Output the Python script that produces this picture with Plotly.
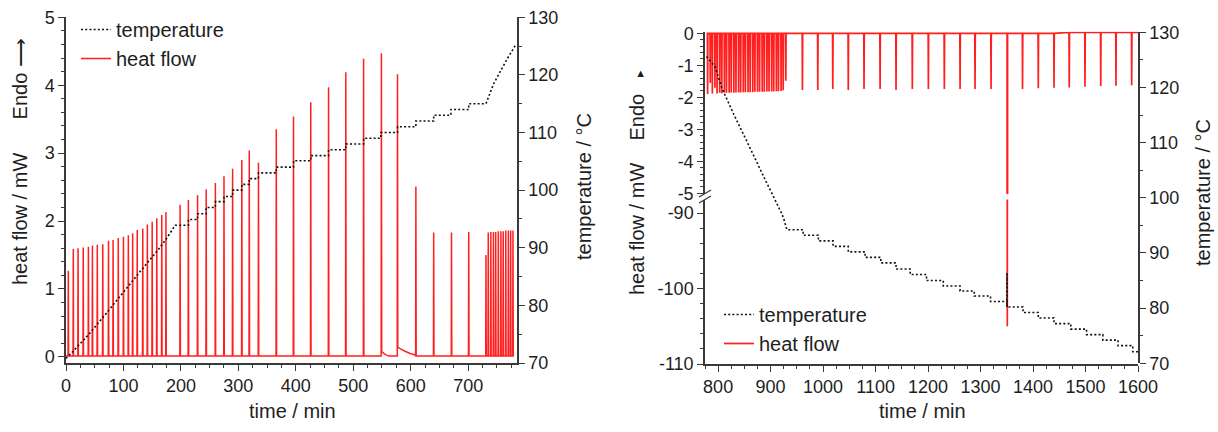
import plotly.graph_objects as go

W, H = 1218, 432

# ---------------- Left panel (heating) ----------------
left_spike_time = [4, 12.7, 21, 30, 39, 46, 54.5, 64, 74, 82, 91, 100, 108.5, 116, 124, 133.6, 141.6, 150, 158, 166.7, 174,
                   198.6, 213, 229, 244, 260, 275, 290, 306, 319, 335, 366, 396, 426, 457, 487, 518, 549, 577, 609, 640, 671, 701,
                   731, 735, 739.5, 744, 748, 752.5, 757, 761, 765.5, 770, 774, 778]
left_spike_height = [1.27, 1.59, 1.60, 1.61, 1.62, 1.64, 1.65, 1.66, 1.71, 1.72, 1.75, 1.77, 1.79, 1.82, 1.87, 1.89, 1.95, 1.99, 2.04, 2.09, 2.13,
                     2.24, 2.31, 2.38, 2.47, 2.56, 2.66, 2.77, 2.90, 3.04, 2.86, 3.35, 3.54, 3.75, 3.97, 4.19, 4.39, 4.47, 4.16, 2.51, 1.83, 1.83, 1.84,
                     1.50, 1.83, 1.84, 1.84, 1.84, 1.85, 1.85, 1.85, 1.86, 1.86, 1.86, 1.86]
left_base_time = [0, 779.5]
left_base_value = [0.012, 0.012]
left_tail_time = [549.8, 553, 557, 562, 577.8, 584, 591, 599, 607, 615]
left_tail_value = [0.08, 0.05, 0.03, 0.012, 0.14, 0.11, 0.08, 0.05, 0.03, 0.012]

left_temp_ramp_time = [0, 12, 40, 70, 100, 130, 160, 175, 190]
left_temp_ramp_value = [70.8, 72.0, 75.0, 78.6, 82.3, 86.0, 89.6, 91.6, 93.9]
left_temp_step_time = [213, 229, 244, 260, 275, 290, 306, 319, 335, 366, 396, 426, 457, 487, 518, 548, 577, 609, 640, 670, 701]
left_temp_step_value = [94.9, 95.9, 97.0, 98.0, 98.9, 100.0, 101.0, 102.0, 103.0, 104.0, 105.1, 106.0, 107.0, 108.0, 109.0,
                        110.0, 111.0, 112.0, 113.0, 114.0, 115.0]
left_temp_ramp2_time = [731, 744.5, 768, 782]
left_temp_ramp2_value = [115.0, 118.5, 122.8, 125.1]

# ---------------- Right panel (cooling) ----------------
right_dense_time = [780, 785, 789, 794, 798, 803, 807, 812, 816, 821, 825, 830, 834, 839, 843, 848, 852,
                    857, 861, 866, 870, 875, 879, 884, 888, 893, 897, 902, 906, 911, 915, 920, 924, 929]
right_dense_depth = [-1.90, -1.55, -1.88, -1.70, -1.88, -1.86, -1.87, -1.86, -1.86, -1.86, -1.85, -1.86, -1.85, -1.85,
                     -1.85, -1.84, -1.84, -1.84, -1.84, -1.84, -1.83, -1.83, -1.83, -1.83, -1.83, -1.82, -1.82, -1.82,
                     -1.82, -1.81, -1.81, -1.80, -1.78, -1.48]
right_spike_time = [960.6, 989.9, 1018.5, 1048, 1078, 1108.6, 1139, 1170, 1200.6, 1231, 1261, 1289.5, 1320, 1351,
                    1380, 1410, 1440, 1469, 1499, 1529, 1558, 1588]
right_spike_depth = [-1.77, -1.77, -1.74, -1.77, -1.74, -1.74, -1.77, -1.74, -1.74, -1.74, -1.74, -1.74, -1.74, -105.0,
                     -1.74, -1.72, -1.70, -1.69, -1.67, -1.65, -1.64, -1.62]
right_base_time = [778, 1455, 1465, 1600]
right_base_value = [0.0, 0.0, 0.03, 0.03]

right_temp_ramp_time = [778, 794, 807, 830, 860, 890, 921, 925.7, 931]
right_temp_ramp_value = [125.6, 123.8, 119.9, 115.1, 109.2, 103.2, 97.2, 96.0, 94.2]
right_temp_step_time = [962, 991, 1019, 1048, 1080, 1110, 1139, 1166, 1197, 1229, 1261, 1288, 1319, 1350, 1381,
                        1410, 1440, 1472, 1502, 1533, 1562, 1590]
right_temp_step_value = [93.2, 92.2, 91.2, 90.2, 89.2, 88.2, 87.1, 86.1, 85.0, 84.0, 83.1, 82.2, 81.2, 80.2, 79.2,
                         78.2, 77.2, 76.2, 75.2, 74.2, 73.2, 72.1]
right_temp_end_time = [1600]
right_temp_excursion_time = [1350.3, 1350.8]
right_temp_excursion_value = [86.4, 80.2]

# ---------------- helpers ----------------
RED = "#ff1f1f"
INK = "#1e1e1e"
AX = "#3a3a3a"
FONT = "Liberation Sans, Arial, sans-serif"


def base_at(t, bt, bv):
    v = bv[0]
    for tt, vv in zip(bt, bv):
        if tt <= t:
            v = vv
    return v


def spikes_series(times, heights, bt, bv, tail_t=(), tail_v=()):
    pts = [(bt[0], bv[0]), (bt[-1], bv[-1])]
    for t, h in zip(times, heights):
        b = base_at(t, bt, bv)
        after = b
        for tt, vv in zip(tail_t, tail_v):
            if t < tt <= t + 1.5:
                after = vv
                break
        pts += [(t - 0.45, b), (t, h), (t + 0.5, after)]
    pts += list(zip(tail_t, tail_v))
    pts.sort(key=lambda p: p[0])
    return [p[0] for p in pts], [p[1] for p in pts]


def staircase(ramp_t, ramp_v, step_t, step_v, extra=()):
    pts = list(zip(ramp_t, ramp_v))
    prev = ramp_v[-1]
    for t, v in zip(step_t, step_v):
        pts += [(t, prev), (t, v)]
        prev = v
    for seg in extra:
        pts += seg
    pts.sort(key=lambda p: p[0])
    return [p[0] for p in pts], [p[1] for p in pts]


lx, ly = spikes_series(left_spike_time, left_spike_height, left_base_time, left_base_value,
                       left_tail_time, left_tail_value)
ltx, lty = staircase(left_temp_ramp_time, left_temp_ramp_value, left_temp_step_time, left_temp_step_value,
                     extra=[list(zip(left_temp_ramp2_time, left_temp_ramp2_value))])

rx, ry = spikes_series(right_dense_time + right_spike_time, right_dense_depth + right_spike_depth,
                       right_base_time, right_base_value)
rtx, rty = staircase(right_temp_ramp_time, right_temp_ramp_value, right_temp_step_time, right_temp_step_value,
                     extra=[[(right_temp_end_time[0], right_temp_step_value[-1])],
                            list(zip(right_temp_excursion_time, right_temp_excursion_value))])


def px_x(p):
    return p / W


def px_y(p):
    return 1 - p / H


fig = go.Figure()

heat_line = dict(color=RED, width=1.5, simplify=False)
heat_line_r = dict(color=RED, width=1.7, simplify=False)
temp_line = dict(color="#111111", width=1.6, dash="2px,2.2px", simplify=False)

# left panel
fig.add_trace(go.Scatter(x=lx, y=ly, mode="lines", line=heat_line, name="heat flow",
                         xaxis="x", yaxis="y", legend="legend", legendrank=2, hoverinfo="skip"))
fig.add_trace(go.Scatter(x=ltx, y=lty, mode="lines", line=temp_line, name="temperature",
                         xaxis="x", yaxis="y2", legend="legend", legendrank=1, hoverinfo="skip"))
# right panel
fig.add_trace(go.Scatter(x=rx, y=ry, mode="lines", line=heat_line_r, name="heat flow",
                         xaxis="x2", yaxis="y3", legend="legend2", legendrank=2, hoverinfo="skip"))
fig.add_trace(go.Scatter(x=rx, y=ry, mode="lines", line=heat_line_r, name="heat flow", showlegend=False,
                         xaxis="x2", yaxis="y4", hoverinfo="skip"))
fig.add_trace(go.Scatter(x=rtx, y=rty, mode="lines", line=temp_line, name="temperature",
                         xaxis="x2", yaxis="y5", legend="legend2", legendrank=1, hoverinfo="skip"))

tickfont = dict(family=FONT, size=18, color=INK)
common = dict(showline=True, linecolor=AX, linewidth=1.5, ticks="outside", ticklen=6, tickwidth=1.4,
              tickcolor=AX, showgrid=False, zeroline=False, tickfont=tickfont, automargin=False)


def minor(d):
    return dict(dtick=d, ticklen=3.5, tickwidth=1.2, tickcolor=AX, ticks="outside", showgrid=False)


L_dom_y = [px_y(363), px_y(17.3)]
fig.update_layout(
    width=W, height=H,
    autosize=False,
    margin=dict(l=0, r=0, t=0, b=0, pad=0, autoexpand=False),
    paper_bgcolor="white", plot_bgcolor="rgba(0,0,0,0)",
    font=dict(family=FONT, size=18, color=INK),
    showlegend=True,
    xaxis=dict(domain=[px_x(66), px_x(517)], range=[0, 785], dtick=100, tick0=0, anchor="y",
               minor=minor(25), **common),
    yaxis=dict(domain=L_dom_y, range=[-0.09, 5.0], dtick=1, tick0=0, anchor="x",
               minor=minor(0.2), **common),
    yaxis2=dict(overlaying="y", side="right", anchor="x", range=[70, 130], dtick=10, tick0=70,
                minor=minor(5), **common),
    xaxis2=dict(domain=[px_x(705), px_x(1138)], range=[775, 1600], dtick=100, tick0=0, anchor="y4",
                minor=minor(25), **common),
    yaxis3=dict(domain=[px_y(194), px_y(31.7)], range=[-5.022, 0.05], anchor="x2",
                tickmode="array", tickvals=[0, -1, -2, -3, -4, -5],
                ticktext=["0", "-1", "-2", "-3", "-4", "-5"],
                minor=dict(tickmode="array", tickvals=[v / 5 for v in range(0, -26, -1)],
                           ticklen=3.5, tickwidth=1.2, tickcolor=AX, ticks="outside"),
                **common),
    yaxis4=dict(domain=[px_y(364), px_y(199.5)], range=[-110, -88.21], anchor="x2",
                tickmode="array", tickvals=[-90, -100, -110], ticktext=["-90", "-100", "-110"],
                minor=dict(tickmode="array", tickvals=list(range(-110, -87, 2)),
                           ticklen=3.5, tickwidth=1.2, tickcolor=AX, ticks="outside"),
                **common),
    yaxis5=dict(domain=[px_y(363.3), px_y(32.3)], range=[70, 130], anchor="x2", side="right",
                dtick=10, tick0=70, minor=minor(5), **common),
    legend=dict(x=px_x(76), y=px_y(10), xanchor="left", yanchor="top", bgcolor="rgba(0,0,0,0)",
                font=dict(family=FONT, size=20, color=INK), tracegroupgap=0, itemwidth=30),
    legend2=dict(x=px_x(719), y=px_y(295), xanchor="left", yanchor="top", bgcolor="rgba(0,0,0,0)",
                 font=dict(family=FONT, size=20, color=INK), tracegroupgap=0, itemwidth=30),
)

nb = "\u00a0"
title_font = dict(family=FONT, size=20, color=INK)
annos = [
    dict(text="time / min", x=px_x(292), y=px_y(411), textangle=0),
    dict(text="time / min", x=px_x(922), y=px_y(411), textangle=0),
    dict(text="heat flow / mW" + nb * 6 + "Endo" + nb + "\u27f6", x=px_x(20), y=px_y(162), textangle=-90),
    dict(text="heat flow / mW" + nb * 4 + "Endo" + nb * 3 + "<span style='font-size:13px'>\u25b8</span>",
         x=px_x(637), y=px_y(183), textangle=-90),
    dict(text="temperature / \u00b0C", x=px_x(584), y=px_y(187), textangle=-90),
    dict(text="temperature / \u00b0C", x=px_x(1203), y=px_y(193), textangle=-90),
]
for a in annos:
    fig.add_annotation(xref="paper", yref="paper", showarrow=False, xanchor="center", yanchor="middle",
                       font=title_font, **a)

# axis break marks on the right panel heat-flow axis
for yy in (193.5, 199.5):
    fig.add_shape(type="line", xref="paper", yref="paper",
                  x0=px_x(699), y0=px_y(yy + 3.5), x1=px_x(711), y1=px_y(yy - 3.5),
                  line=dict(color=AX, width=1.4))

fig.write_html("out.html")
